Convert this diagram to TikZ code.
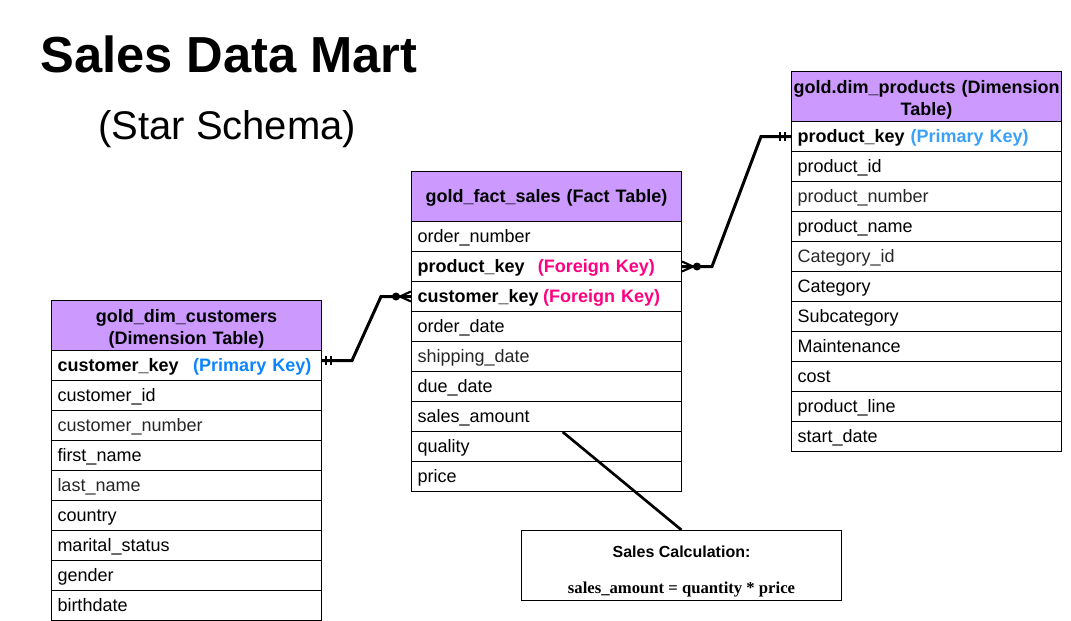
\documentclass[tikz,border=0pt]{standalone}
\usepackage{fontspec}
\setmainfont{Liberation Sans}
\newfontfamily\calcserif{Liberation Serif}
\usetikzlibrary{calc}
\definecolor{hdr}{HTML}{CC99FF}
\definecolor{pkc}{HTML}{0A84FF}
\definecolor{pkp}{HTML}{3AA0FA}
\definecolor{fkc}{HTML}{FF0080}
\definecolor{soft}{HTML}{262626}
\begin{document}
\begin{tikzpicture}[x=0.75pt,y=-0.75pt,
  rowbox/.style={draw, line width=0.75pt, anchor=north west, minimum width=202.5pt,
    minimum height=22.5pt, text width=193.5pt, inner xsep=4.5pt, inner ysep=0pt,
    align=left, text height=9.7pt, text depth=0pt, font=\fontsize{13.5}{16.5}\selectfont},
  hdrbox/.style={draw, line width=0.75pt, fill=hdr, anchor=north west, minimum width=202.5pt,
    minimum height=37.5pt, text width=202.5pt, inner xsep=0pt, inner ysep=0pt, align=center,
    font=\fontsize{13.5}{16.5}\selectfont\bfseries},
  conn/.style={line width=2.25pt},
  foot/.style={line width=1.6pt},
  ]
\useasboundingbox (0,0) rectangle (1071,621);

% titles
\node[anchor=base west, inner sep=0pt, font=\fontsize{38}{40}\selectfont\bfseries] (title) at (40,72) {Sales Data Mart};
\node[anchor=base west, inner sep=0pt, font=\fontsize{30}{34}\selectfont] (subtitle) at (98,139) {(Star Schema)};

% customers table
\node[hdrbox] (ch) at (51,300) {\rule{0pt}{15pt}gold\_dim\_customers\\(Dimension Table)\rule[-3pt]{0pt}{0pt}};
\node[rowbox] (c0) at (51,350) {\bfseries customer\_key\hspace{11pt}\textcolor{pkc}{(Primary Key)}};
\node[rowbox] (c1) at (51,380) {customer\_id};
\node[rowbox, text=soft] (c2) at (51,410) {customer\_number};
\node[rowbox] (c3) at (51,440) {first\_name};
\node[rowbox, text=soft] (c4) at (51,470) {last\_name};
\node[rowbox] (c5) at (51,500) {country};
\node[rowbox] (c6) at (51,530) {marital\_status};
\node[rowbox] (c7) at (51,560) {gender};
\node[rowbox] (c8) at (51,590) {birthdate};

% fact table
\node[hdrbox, text height=9.7pt, text depth=0pt] (fh) at (411,171) {gold\_fact\_sales (Fact Table)};
\node[rowbox] (f0) at (411,221) {order\_number};
\node[rowbox] (f1) at (411,251) {\bfseries product\_key\hspace{10pt}\textcolor{fkc}{(Foreign Key)}};
\node[rowbox] (f2) at (411,281) {\bfseries customer\_key\hspace{3.5pt}\textcolor{fkc}{(Foreign Key)}};
\node[rowbox] (f3) at (411,311) {order\_date};
\node[rowbox, text=soft] (f4) at (411,341) {shipping\_date};
\node[rowbox] (f5) at (411,371) {due\_date};
\node[rowbox] (f6) at (411,401) {sales\_amount};
\node[rowbox] (f7) at (411,431) {quality};
\node[rowbox] (f8) at (411,461) {price};

% products table
\node[hdrbox] (ph) at (791,71) {\rule{0pt}{15pt}gold.dim\_products (Dimension\\Table)\rule[-3pt]{0pt}{0pt}};
\node[rowbox] (p0) at (791,121) {\bfseries product\_key \textcolor{pkp}{(Primary Key)}};
\node[rowbox] (p1) at (791,151) {product\_id};
\node[rowbox, text=soft] (p2) at (791,181) {product\_number};
\node[rowbox] (p3) at (791,211) {product\_name};
\node[rowbox, text=soft] (p4) at (791,241) {Category\_id};
\node[rowbox] (p5) at (791,271) {Category};
\node[rowbox] (p6) at (791,301) {Subcategory};
\node[rowbox] (p7) at (791,331) {Maintenance};
\node[rowbox] (p8) at (791,361) {cost};
\node[rowbox] (p9) at (791,391) {product\_line};
\node[rowbox] (p10) at (791,421) {start\_date};

% calculation box
\node[draw, line width=0.75pt, anchor=north west, minimum width=240pt, minimum height=52.5pt,
  inner sep=0pt, align=center, font=\fontsize{12}{27}\selectfont] (calc) at (521,530)
  {\rule{0pt}{18pt}\bfseries Sales Calculation:\\{\calcserif\bfseries\fontsize{12.5}{27}\selectfont sales\_amount = quantity * price}\rule[-3pt]{0pt}{0pt}};

% customers <-> fact
\coordinate (cs) at ($(c0.east)+(0,-5)$);
\draw[conn] (cs) -- ++(30,0) -- ($(f2.west)+(-30,0)$) -- (f2.west);
\draw[foot] ($(cs)+(4,-4.5)$) -- ($(cs)+(4,4.5)$);
\draw[foot] ($(cs)+(9,-4.5)$) -- ($(cs)+(9,4.5)$);
\fill ($(f2.west)+(-15,0)$) circle (3pt);
\draw[foot] ($(f2.west)+(-11,0)$) -- ($(f2.west)+(0,-5)$);
\draw[foot] ($(f2.west)+(-11,0)$) -- ($(f2.west)+(0,5)$);

% fact <-> products
\draw[conn] (f1.east) -- ++(30,0) -- ($(p0.west)+(-30,0)$) -- (p0.west);
\fill ($(f1.east)+(15,0)$) circle (3pt);
\draw[foot] ($(f1.east)+(11,0)$) -- ($(f1.east)+(0,-5)$);
\draw[foot] ($(f1.east)+(11,0)$) -- ($(f1.east)+(0,5)$);
\draw[foot] ($(p0.west)+(-6,-4.5)$) -- ($(p0.west)+(-6,4.5)$);
\draw[foot] ($(p0.west)+(-11,-4.5)$) -- ($(p0.west)+(-11,4.5)$);

% sales_amount -> calculation
\draw[line width=2pt] ($(f6.south west)!0.56!(f6.south east)$) -- (calc.north);
\end{tikzpicture}
\end{document}
